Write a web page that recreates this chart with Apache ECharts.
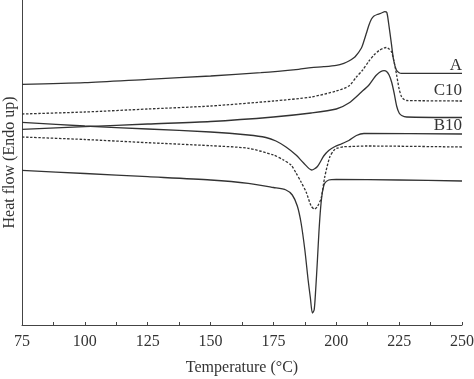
<!DOCTYPE html>
<html>
<head>
<meta charset="utf-8">
<script src="https://cdn.jsdelivr.net/npm/echarts@6/dist/echarts.min.js"></script>
<style>
html,body{margin:0;padding:0;background:#fff;}
#chart{width:474px;height:379px;}
</style>
</head>
<body>
<div id="chart"></div>
<script>
// X axis ticks
const xTicks = [75, 100, 125, 150, 175, 200, 225, 250];

// Heating curves (arbitrary heat-flow units, endo up)
const aHeatT = [75, 100, 125, 150, 170, 185, 190, 195, 200, 203, 205, 207.5, 210, 211, 212, 213, 214, 215, 216.5, 218, 219.3, 220.1, 220.8, 221.9, 222.8, 223.9, 225, 226, 250];
const aHeatV = [240.7, 242.3, 245.7, 249, 252.3, 255.7, 257.3, 258.3, 259.7, 261.7, 264, 268.3, 277, 284, 292, 300, 306, 309, 310.7, 312, 313.3, 312.5, 302, 281.7, 265, 255, 252.3, 251.7, 251.7];

const c10HeatT = [75, 100, 125, 150, 175, 190, 200, 205, 208, 210.5, 213, 215, 217, 219, 220, 221, 222, 223, 224, 225, 226, 227, 228, 250];
const c10HeatV = [211, 213, 216, 219, 224, 228, 234, 239, 248, 255, 264, 270, 274.5, 277, 277.5, 276, 273, 263, 250, 236, 228, 225.5, 224.5, 224];

const b10HeatT = [75, 100, 125, 150, 175, 190, 200, 205, 210, 213, 216, 219, 220, 221, 222, 223, 224, 225, 226, 228, 250];
const b10HeatV = [195.7, 198.3, 201, 203.5, 208, 212, 216, 222, 233, 240, 250, 254.3, 253.5, 250, 243, 232, 219, 212, 209.5, 208, 207.5];

// Cooling curves
const aCoolT = [75, 100, 125, 150, 165, 172, 176, 180, 184, 187, 190.2, 192.5, 195, 197, 199.5, 202, 205, 208, 211, 250];
const aCoolV = [202.7, 199, 196, 193, 190, 187.5, 184, 178, 170, 162, 155, 158.5, 169, 174.5, 178.5, 181, 184.5, 189.5, 191.5, 191];

const c10CoolT = [75, 100, 125, 150, 165, 175, 179, 182, 184, 186, 188, 190, 191.3, 192.5, 194, 195.4, 197.4, 199, 200, 203, 206, 212, 250];
const c10CoolV = [188, 185.5, 182.3, 179.3, 176.7, 170, 165, 160, 152, 143, 133, 119, 116, 118.5, 127, 148, 168, 174.5, 176.5, 178.3, 178.5, 179, 178];

const b10CoolT = [75, 100, 125, 150, 165, 175, 180, 182.5, 184.5, 186, 187.5, 188.8, 189.7, 190.5, 191.2, 191.8, 192.5, 193.1, 193.8, 194.5, 195.4, 197, 200, 225, 250];
const b10CoolV = [154.7, 151.5, 148.3, 145, 141.7, 137.5, 135, 130, 119, 102, 75, 45, 27, 12, 15, 35, 65, 93, 118, 133, 141.7, 145, 145.7, 145, 144];

const curveLabels = ['A', 'C10', 'B10'];

function pairs(t, v) { return t.map((x, i) => [x, v[i]]); }

const FONT = '"Liberation Serif", "DejaVu Serif", serif';
const LINE = '#333';

function mk(name, t, v, dashed) {
  return {
    name: name,
    type: 'line',
    data: pairs(t, v),
    showSymbol: false,
    smooth: 0.25,
    silent: true,
    lineStyle: { color: LINE, width: 1.3, type: dashed ? [2.5, 1.6] : 'solid' },
    z: 3
  };
}

const chart = echarts.init(document.getElementById('chart'), null, { renderer: 'canvas' });
chart.setOption({
  animation: false,
  backgroundColor: '#fff',
  grid: { left: 22, right: 12, top: 0, bottom: 54, containLabel: false, outerBoundsMode: 'none' },
  xAxis: {
    type: 'value',
    min: 75, max: 250, interval: 25,
    name: 'Temperature (°C)',
    nameLocation: 'middle',
    nameGap: 35,
    nameTextStyle: { fontFamily: FONT, fontSize: 16, color: '#333' },
    axisLine: { show: true, onZero: false, lineStyle: { color: '#444', width: 1 } },
    axisTick: { show: true, inside: true, length: 3, lineStyle: { color: '#444' } },
    minorTick: { show: true, splitNumber: 2, length: 3, lineStyle: { color: '#444' } },
    axisLabel: { fontFamily: FONT, fontSize: 16, color: '#333', margin: 9,
      formatter: v => (xTicks.indexOf(v) >= 0 ? String(v) : '') },
    splitLine: { show: false }
  },
  yAxis: {
    type: 'value',
    min: 0, max: 325,
    name: 'Heat flow (Endo up)',
    nameLocation: 'middle',
    nameGap: 4,
    nameRotate: 90,
    nameTextStyle: { fontFamily: FONT, fontSize: 16, color: '#333' },
    axisLine: { show: true, onZero: false, lineStyle: { color: '#444', width: 1 } },
    axisTick: { show: false },
    axisLabel: { show: false },
    splitLine: { show: false }
  },
  series: [
    mk('A heating', aHeatT, aHeatV, false),
    mk('C10 heating', c10HeatT, c10HeatV, true),
    mk('B10 heating', b10HeatT, b10HeatV, false),
    mk('A cooling', aCoolT, aCoolV, false),
    mk('C10 cooling', c10CoolT, c10CoolV, true),
    mk('B10 cooling', b10CoolT, b10CoolV, false)
  ],
  graphic: [
    { type: 'text', right: 12, top: 57, style: { text: curveLabels[0], font: '17px ' + FONT, fill: '#333' } },
    { type: 'text', right: 12, top: 82, style: { text: curveLabels[1], font: '17px ' + FONT, fill: '#333' } },
    { type: 'text', right: 12, top: 117, style: { text: curveLabels[2], font: '17px ' + FONT, fill: '#333' } }
  ]
});
</script>
</body>
</html>
